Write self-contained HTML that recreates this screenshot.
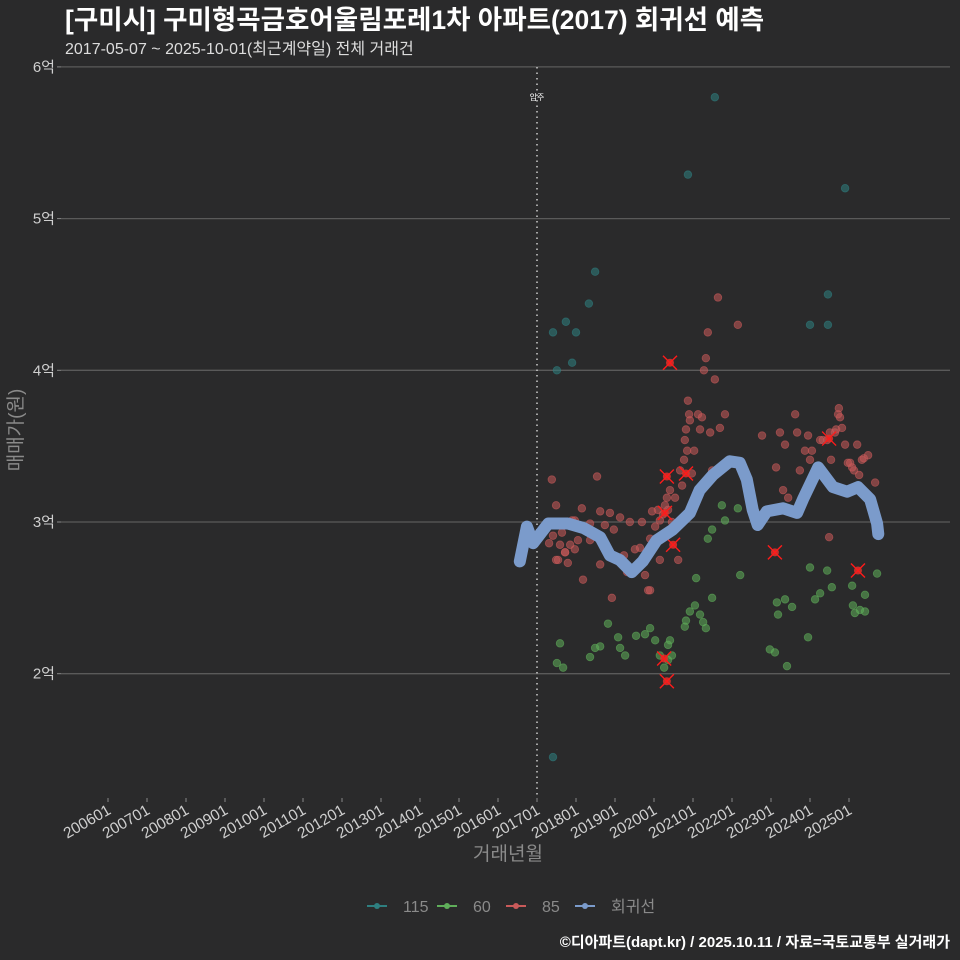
<!DOCTYPE html>
<html><head><meta charset="utf-8">
<style>
html,body{margin:0;padding:0;background:#2a2a2b;}
svg{display:block;font-family:"Liberation Sans","Noto Sans CJK KR",sans-serif;}
</style></head>
<body>
<svg id="chart" width="960" height="960" viewBox="0 0 960 960">
<rect x="0" y="0" width="960" height="960" fill="#2a2a2b"/>
<text x="65" y="29" fill="#ffffff" font-size="26.5" font-weight="bold">[구미시] 구미형곡금호어울림포레1차 아파트(2017) 회귀선 예측</text>
<text x="65" y="54" fill="#dddddd" font-size="16">2017-05-07 ~ 2025-10-01(최근계약일) 전체 거래건</text>
<g id="grid"></g>
<g id="yaxis"></g>
<g id="xaxis"></g>
<g id="marks"></g>
<text x="0" y="0" transform="translate(22,430) rotate(-90)" text-anchor="middle" fill="#8a8a8a" font-size="19">매매가(원)</text>
<text x="508" y="860" text-anchor="middle" fill="#8a8a8a" font-size="19">거래년월</text>
<g id="legend"></g>
<text x="950" y="947" text-anchor="end" fill="#ffffff" font-size="15" font-weight="bold">©디아파트(dapt.kr) / 2025.10.11 / 자료=국토교통부 실거래가</text>
</svg>
<script>
// ---- data ----
const yTicks=[2,3,4,5,6];
const yTickLabels=["2억","3억","4억","5억","6억"];
const xTickYears=[2006,2007,2008,2009,2010,2011,2012,2013,2014,2015,2016,2017,2018,2019,2020,2021,2022,2023,2024,2025];
const xTickLabels=["200601","200701","200801","200901","201001","201101","201201","201301","201401","201501","201601","201701","201801","201901","202001","202101","202201","202301","202401","202501"];
const moveInYear=2017.0;
const s115Dates=[2017.41,2017.51,2017.74,2017.90,2018.00,2018.33,2018.49,2017.41,2020.87,2021.56,2024.00,2024.46,2024.46,2024.90];
const s115Values=[4.25,4.00,4.32,4.05,4.25,4.44,4.65,1.45,5.29,5.80,4.30,4.50,4.30,5.20];
const s60Dates=[2017.51,2017.59,2017.67,2018.36,2018.49,2018.62,2018.82,2019.08,2019.13,2019.26,2019.54,2019.77,2019.90,2020.03,2020.15,2020.26,2020.36,2020.41,2020.46,2020.79,2020.82,2020.92,2021.05,2021.08,2021.18,2021.26,2021.33,2021.38,2021.49,2021.49,2021.74,2021.82,2022.15,2022.21,2022.97,2023.10,2023.15,2023.18,2023.36,2023.41,2023.54,2024.00,2023.95,2024.13,2024.26,2024.44,2024.56,2025.08,2025.10,2025.15,2025.28,2025.41,2025.41,2025.72,2020.36];
const s60Values=[2.07,2.20,2.04,2.11,2.17,2.18,2.33,2.24,2.17,2.12,2.25,2.26,2.30,2.22,2.12,2.04,2.19,2.22,2.12,2.31,2.35,2.41,2.45,2.63,2.39,2.34,2.30,2.89,2.50,2.95,3.11,3.01,3.09,2.65,2.16,2.14,2.47,2.39,2.49,2.05,2.44,2.70,2.24,2.49,2.53,2.68,2.57,2.58,2.45,2.40,2.42,2.52,2.41,2.66,2.09];
const s85Dates=[2017.31,2017.38,2017.41,2017.49,2017.54,2017.59,2017.64,2017.72,2017.79,2017.85,2017.90,2017.97,2018.05,2018.15,2018.18,2018.36,2018.54,2018.62,2018.74,2018.87,2018.92,2018.97,2019.13,2019.23,2019.31,2019.38,2019.51,2019.64,2019.69,2019.77,2019.85,2019.90,2019.95,2020.03,2020.10,2020.15,2020.23,2020.28,2020.33,2020.36,2020.41,2020.46,2020.54,2020.62,2020.67,2020.72,2020.77,2020.79,2020.82,2020.85,2020.87,2020.90,2020.92,2020.97,2021.03,2021.13,2021.18,2021.23,2021.28,2021.33,2021.38,2021.44,2021.49,2021.56,2021.64,2021.69,2021.82,2022.15,2022.77,2023.13,2023.23,2023.31,2023.36,2023.44,2023.62,2023.67,2023.74,2023.87,2023.95,2024.00,2024.05,2024.13,2024.26,2024.33,2024.44,2024.49,2024.54,2024.64,2024.67,2024.72,2024.74,2024.77,2024.82,2024.90,2024.97,2025.03,2025.08,2025.13,2025.21,2025.26,2025.33,2025.38,2025.49,2025.54,2025.67,2024.51,2017.72,2018.36,2018.62,2019.64,2019.90,2020.15,2017.49,2017.97];
const s85Values=[2.86,3.28,2.91,3.11,2.75,2.85,2.93,2.80,2.73,2.85,3.01,2.82,2.88,3.09,2.62,2.99,3.30,3.07,2.98,3.06,2.50,2.95,3.03,2.78,2.67,3.00,2.82,2.83,3.00,2.65,2.55,2.89,3.07,2.97,3.08,3.01,3.05,3.11,3.16,3.08,3.21,3.00,3.16,2.75,3.34,3.24,3.41,3.54,3.61,3.47,3.80,3.71,3.67,3.32,3.47,3.71,3.61,3.69,4.00,4.08,4.25,3.59,3.34,3.94,4.48,3.62,3.71,4.30,3.57,3.36,3.59,3.21,3.51,3.16,3.71,3.59,3.34,3.47,3.57,3.41,3.47,3.34,3.54,3.54,3.54,2.90,3.41,3.59,3.61,3.71,3.75,3.69,3.62,3.51,3.39,3.39,3.36,3.34,3.51,3.31,3.41,3.42,3.44,3.15,3.26,3.59,2.80,2.88,2.72,2.72,2.55,2.75,2.75,3.01];
const hiDates=[2020.33,2020.82,2020.28,2020.49,2020.41,2020.26,2020.33,2023.10,2024.49,2025.23];
const hiValues=[3.30,3.32,3.06,2.85,4.05,2.10,1.95,2.80,3.55,2.68];
const regDates=[2016.56,2016.74,2016.90,2017.29,2017.79,2018.20,2018.62,2018.87,2019.12,2019.43,2019.71,2020.07,2020.48,2020.92,2021.17,2021.51,2021.94,2022.20,2022.38,2022.53,2022.66,2022.89,2023.31,2023.67,2023.82,2024.21,2024.59,2024.95,2025.23,2025.54,2025.72,2025.75];
const regValues=[2.74,2.97,2.86,2.99,2.99,2.96,2.90,2.78,2.75,2.67,2.74,2.88,2.95,3.06,3.21,3.31,3.40,3.39,3.28,3.08,2.98,3.07,3.09,3.06,3.15,3.36,3.23,3.20,3.23,3.15,2.99,2.92];

// ---- scales ----
const PL=61,PR=950,PT=62,PB=795;
function xs(yr){return 108+(yr-2006)*39;}
function ys(v){return 522-(v-3)*151.7;}
const NS="http://www.w3.org/2000/svg";
function mk(tag,attrs,parent){const e=document.createElementNS(NS,tag);for(const k in attrs)e.setAttribute(k,attrs[k]);parent.appendChild(e);return e;}
const grid=document.getElementById('grid'),yax=document.getElementById('yaxis'),xax=document.getElementById('xaxis'),marks=document.getElementById('marks'),leg=document.getElementById('legend');

yTicks.forEach((t,i)=>{
  const y=ys(t);
  const g=mk('line',{x1:PL,x2:PR,y1:y,y2:y,stroke:'#5a5a5a','stroke-width':1.3},grid);
  
  
  const tk=mk('line',{x1:57,x2:PL,y1:y,y2:y,stroke:'#888','stroke-width':1},yax);
  
  
  const tx=mk('text',{x:55,y:y+5,'text-anchor':'end',fill:'#cfcfcf','font-size':15},yax);
  tx.textContent=yTickLabels[i];
  
  
});
xTickYears.forEach((t,i)=>{
  const x=xs(t);
  const tk=mk('line',{x1:x,x2:x,y1:798,y2:802,stroke:'#888','stroke-width':1},xax);
  
  
  const tx=mk('text',{x:0,y:0,'text-anchor':'end',fill:'#cfcfcf','font-size':15.5,transform:`translate(${x+4},${813}) rotate(-30)`},xax);
  tx.textContent=xTickLabels[i];
  
  
});
// move-in line
const mx=xs(moveInYear);
const ml=mk('line',{x1:mx,x2:mx,y1:67,y2:PB,stroke:'#cccccc','stroke-width':1.5,'stroke-dasharray':'1.5,4'},marks);


const mt=mk('text',{x:mx,y:100,'text-anchor':'middle',fill:'#ffffff','font-size':8},marks);
mt.textContent='입주';



function pts(dates,vals,fill,name){
  dates.forEach((d,i)=>{
    const c=mk('circle',{cx:xs(d),cy:ys(vals[i]),r:3.8,fill:fill,'fill-opacity':0.55,stroke:fill,'stroke-opacity':0.6,'stroke-width':0.8},marks);
    
    
  });
}
pts(s115Dates,s115Values,'#2e7f80','point-115');
pts(s60Dates,s60Values,'#5fae5a','point-60');
pts(s85Dates,s85Values,'#c95a5a','point-85');
hiDates.forEach((d,i)=>{
  const x=xs(d),y=ys(hiValues[i]);
  const g=mk('g',{},marks);
  
  
  mk('circle',{cx:x,cy:y,r:4,fill:'#e0302a','fill-opacity':0.85},g);
  mk('path',{d:`M${x-7},${y-7}L${x+7},${y+7}M${x-7},${y+7}L${x+7},${y-7}`,stroke:'#ff1a1a','stroke-width':1.4},g);
});
let dpath='';
regDates.forEach((d,i)=>{dpath+=(i?'L':'M')+xs(d).toFixed(1)+','+ys(regValues[i]).toFixed(1);});
const rl=mk('path',{d:dpath,fill:'none',stroke:'#7b9bcb','stroke-width':12,'stroke-linejoin':'round','stroke-linecap':'round'},marks);



// legend
const legItems=[['115','#2e7f80',385],['60','#5fae5a',455],['85','#c95a5a',524],['회귀선','#7b9bcb',593]];
legItems.forEach(it=>{
  const g=mk('g',{},leg);
  
  
  mk('line',{x1:it[2]-18,x2:it[2]+2,y1:906,y2:906,stroke:it[1],'stroke-width':2},g);
  mk('circle',{cx:it[2]-8,cy:906,r:3,fill:it[1]},g);
  const t=mk('text',{x:it[2]+18,y:912,fill:'#8a8a8a','font-size':16},g);
  t.textContent=it[0];
});
</script>
</body></html>
